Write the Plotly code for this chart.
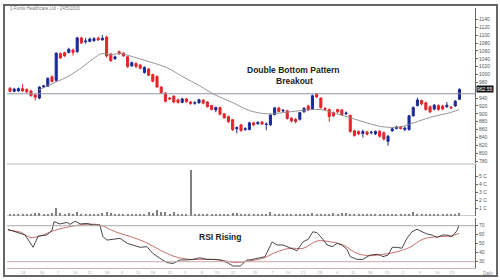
import plotly.graph_objects as go

title_text = "1-Fortis Healthcare Ltd - 24/5/2016"

# daily OHLC
open_ = [965, 957, 958, 964, 962, 958, 948, 940, 968, 970,
         994, 985, 1053, 1055, 1056, 1062, 1058, 1093, 1083, 1084,
         1086, 1092, 1088, 1095, 1052, 1040, 1058, 1054, 1045, 1022,
         1028, 1024, 1005, 1014, 1000, 995, 968, 953, 940, 945,
         936, 929, 938, 930, 927, 928, 935, 930, 921, 910,
         916, 900, 893, 885, 862, 872, 860, 860, 877, 875,
         879, 873, 872, 898, 915, 907, 908, 889, 886, 886,
         905, 920, 913, 950, 940, 914, 911, 903, 911, 910,
         900, 896, 857, 855, 850, 854, 852, 849, 856, 852,
         830, 857, 863, 866, 860, 860, 895, 921, 934, 928,
         918, 912, 921, 920, 918, 917, 920, 937]
high = [968, 966, 967, 976, 965, 961, 950, 970, 974, 993,
        998, 1057, 1056, 1058, 1068, 1066, 1096, 1096, 1093, 1094,
        1095, 1096, 1100, 1099, 1055, 1048, 1061, 1057, 1048, 1033,
        1031, 1027, 1021, 1016, 1002, 998, 970, 955, 943, 947,
        938, 941, 940, 933, 932, 938, 937, 932, 923, 918,
        918, 902, 895, 887, 868, 874, 866, 880, 880, 881,
        882, 878, 899, 918, 918, 912, 910, 891, 889, 905,
        917, 923, 949, 953, 942, 917, 913, 906, 913, 912,
        906, 898, 859, 858, 860, 857, 857, 858, 858, 855,
        846, 866, 870, 869, 868, 897, 919, 941, 936, 931,
        921, 925, 924, 923, 930, 920, 935, 965]
low = [955, 955, 956, 956, 953, 944, 934, 937, 966, 968,
       980, 982, 1040, 1045, 1054, 1048, 1055, 1078, 1078, 1082,
       1083, 1085, 1086, 1043, 1032, 1037, 1050, 1045, 1017, 1019,
       1017, 1013, 1002, 996, 980, 967, 950, 929, 935, 927,
       926, 927, 928, 923, 923, 926, 924, 916, 909, 904,
       896, 887, 877, 856, 850, 855, 857, 858, 869, 872,
       872, 858, 869, 896, 904, 904, 885, 878, 876, 883,
       903, 907, 910, 940, 913, 908, 880, 892, 902, 895,
       897, 852, 842, 846, 840, 845, 848, 846, 840, 832,
       819, 854, 860, 860, 856, 857, 893, 919, 922, 908,
       902, 909, 908, 909, 915, 912, 918, 935]
close = [957, 963, 964, 958, 956, 946, 942, 968, 971, 990,
         982, 1054, 1042, 1047, 1064, 1056, 1093, 1080, 1085, 1090,
         1091, 1088, 1092, 1047, 1035, 1045, 1053, 1047, 1020, 1030,
         1020, 1016, 1018, 998, 983, 968, 954, 932, 938, 930,
         929, 938, 931, 926, 928, 936, 927, 918, 911, 916,
         899, 890, 880, 860, 865, 857, 862, 877, 872, 878,
         874, 874, 897, 915, 906, 909, 888, 882, 880, 903,
         914, 910, 946, 943, 916, 911, 893, 895, 905, 898,
         902, 855, 845, 849, 855, 848, 853, 855, 843, 836,
         843, 862, 866, 863, 864, 895, 916, 935, 925, 911,
         905, 922, 911, 912, 922, 915, 932, 962]
volume = [0.25, 0.20, 0.30, 0.20, 0.25, 0.30, 0.35, 0.40, 0.25, 0.30,
          0.35, 1.00, 0.40, 0.30, 0.35, 0.30, 0.50, 0.30, 0.25, 0.20,
          0.20, 0.25, 0.40, 0.45, 0.35, 0.25, 0.20, 0.25, 0.30, 0.20,
          0.20, 0.25, 0.30, 0.50, 0.35, 0.75, 0.45, 0.45, 0.30, 0.55,
          0.30, 0.25, 0.30, 5.75, 0.30, 0.25, 0.20, 0.30, 0.25, 0.20,
          0.30, 0.25, 0.30, 0.35, 0.40, 0.20, 0.25, 0.30, 0.20, 0.25,
          0.30, 0.20, 0.45, 0.30, 0.25, 0.20, 0.25, 0.30, 0.20, 0.25,
          0.20, 0.30, 0.35, 0.25, 0.20, 0.25, 0.30, 0.40, 0.30, 0.35,
          0.40, 0.30, 0.25, 0.20, 0.25, 0.30, 0.20, 0.25, 0.30, 0.20,
          0.25, 0.30, 0.20, 0.25, 0.20, 0.30, 0.45, 0.30, 0.25, 0.30,
          0.20, 0.25, 0.20, 0.25, 0.30, 0.20, 0.25, 0.35]
days = list(range(len(close)))

# moving average (read at sample days)
ma_day = [6.9, 9.5, 13.6, 17.4, 19.8, 21.9, 23.8, 26.2, 29.3, 33.3, 37.4, 41.2,
          45.2, 48.3, 53.1, 57.1, 61.2, 65.0, 69.0, 73.8, 76.9, 81.0, 85.0,
          88.8, 92.9, 96.9, 100.7, 104.8, 106.9]
ma_val = [961, 974, 994, 1020, 1040, 1053, 1050, 1053, 1045, 1032, 1017, 994,
          971, 951, 928, 908, 900, 903, 908, 911, 903, 890, 877,
          867, 867, 880, 893, 903, 911]

neckline = 951
last_price_label = "962.55"

# RSI and its average (read at sample days)
rsi_day = [-0.5, 1.2, 3.6, 5.5, 6.7, 8.8, 10.0, 10.5, 11.9, 13.6, 14.3, 15.5,
           16.7, 18.3, 19.8, 21.4, 22.1, 23.1, 24.5, 26.2, 27.9, 29.3, 31.0,
           32.6, 34.0, 35.7, 37.4, 38.8, 40.5, 42.1, 43.6, 45.2, 46.9, 48.3,
           50.0, 51.7, 53.1, 54.8, 56.4, 57.1, 58.8, 60.7, 62.4, 63.6, 65.0,
           66.7, 68.3, 69.8, 71.0, 72.1, 73.1, 74.3, 75.5, 76.7, 77.9, 79.0,
           80.2, 81.0, 82.6, 84.0, 85.7, 87.4, 88.1, 88.8, 90.0, 91.0, 92.1,
           93.3, 94.5, 95.7, 96.9, 98.1, 99.3, 100.5, 101.7, 102.9, 104.0,
           105.2, 106.4, 106.9]
rsi_val = [66, 63.3, 59.7, 46, 58.5, 59.7, 65, 74.5, 72, 73.7, 71.5, 75,
           72, 72.6, 70.8, 70.8, 58, 54, 55, 56, 50.4, 48.6, 46,
           46.7, 39.3, 33.8, 29, 28, 32, 32, 32.6, 34.4, 32.6, 32.6,
           32, 29, 25.2, 25.2, 32, 32, 33.8, 35.6, 52, 48.6, 48.6,
           44.9, 42.2, 52.2, 54.9, 63.3, 62.2, 56, 48.6, 46.7, 50.4, 48.6,
           43.8, 35.6, 32.6, 32.6, 37.4, 38.2, 37.4, 35.6, 37.4, 46, 46,
           45, 56, 63.3, 66, 63.3, 60.8, 59.6, 57, 59.6, 59.6,
           57.8, 64.4, 70.8]
sig_day = [-0.5, 2.4, 4.8, 7.1, 10.7, 14.3, 17.9, 21.4, 25.0, 28.6, 32.1, 35.7,
           39.3, 42.9, 46.4, 50.0, 53.6, 57.1, 60.2, 63.6, 66.7, 69.8, 73.1,
           76.2, 79.3, 82.6, 85.7, 88.8, 92.1, 95.2, 98.3, 101.7, 104.8, 106.9]
sig_val = [65, 63, 57, 58.5, 65, 69, 71.5, 70.8, 63.4, 58, 52, 43,
           35.6, 32.6, 32.6, 32, 29, 31, 33.8, 41, 44.9, 44.9, 53,
           52.2, 48.6, 39.3, 36.7, 38.2, 41, 46, 55, 57.8, 58.5, 61.5]

# 960 is hidden under the last-price box in the reference
price_ticks = [v for v in range(780, 1141, 20) if v != 960]
vol_ticks = [1, 2, 3, 4, 5]
vol_tick_text = ["1 C", "2 C", "3 C", "4 C", "5 C"]
rsi_ticks = [30, 40, 50, 60, 70]
x_tick_pos = [3.1, 7.6, 11.4, 15.5, 19.0, 23.1, 26.7, 30.5, 34.0, 38.1, 41.7,
              45.7, 49.3, 53.1, 58.3, 62.4, 66.2, 69.8, 73.8, 77.9, 81.7, 85.7,
              89.8, 93.6, 97.6, 101.7, 105.2]
x_tick_text = ["24", "30", "7", "14", "21", "28", "4", "11", "18", "25", "1",
               "8", "15", "22", "29", "7", "14", "21", "28", "4", "11", "18",
               "25", "2", "9", "16", "23"]

W, H = 500, 280
def px(x):
    return x / W
def py(y):
    return 1 - y / H

fig = go.Figure()
fig.add_trace(go.Candlestick(
    x=days, open=open_, high=high, low=low, close=close,
    increasing=dict(line=dict(color="#1c2a96", width=1), fillcolor="#1c2a96"),
    decreasing=dict(line=dict(color="#e5252a", width=1), fillcolor="#e5252a"),
    whiskerwidth=0, xaxis="x", yaxis="y", showlegend=False, hoverinfo="skip"))
fig.add_trace(go.Scatter(x=ma_day, y=ma_val, mode="lines",
                         line=dict(color="#8a8a8a", width=0.9, shape="spline"),
                         xaxis="x", yaxis="y", showlegend=False))
fig.add_trace(go.Bar(x=days, y=volume, width=0.25, marker=dict(color="#808080", line=dict(width=0)),
                     xaxis="x", yaxis="y2", showlegend=False))
fig.add_trace(go.Scatter(x=sig_day, y=sig_val, mode="lines",
                         line=dict(color="#c0605a", width=0.9, shape="spline"),
                         xaxis="x", yaxis="y3", showlegend=False))
fig.add_trace(go.Scatter(x=rsi_day, y=rsi_val, mode="lines",
                         line=dict(color="#333", width=0.9),
                         xaxis="x", yaxis="y3", showlegend=False))

axis_font = dict(family="Liberation Sans", size=5, color="#555")
common_y = dict(side="right", anchor="x", showgrid=False, zeroline=False,
                ticks="outside", ticklen=2, tickcolor="#666", showline=True,
                linecolor="#666", linewidth=1, tickfont=axis_font)

fig.update_layout(
    width=W, height=H, margin=dict(l=0, r=0, t=0, b=0),
    paper_bgcolor="white", plot_bgcolor="white", showlegend=False,
    bargap=0,
    xaxis=dict(domain=[px(7), px(475)], range=[-0.71, 110.7], anchor="y3",
               showgrid=False, zeroline=False, rangeslider=dict(visible=False),
               tickvals=x_tick_pos, ticktext=x_tick_text, ticks="",
               tickfont=dict(family="Liberation Sans", size=4, color="#aaa"),
               showline=True, linecolor="#c9b3b3", linewidth=1),
    yaxis=dict(domain=[py(163), py(8)], range=[775, 1169], tickvals=price_ticks, **common_y),
    yaxis2=dict(domain=[py(216), py(164)], range=[0, 6.5], tickvals=vol_ticks,
                ticktext=vol_tick_text, **common_y),
    yaxis3=dict(domain=[py(268), py(218)], range=[23, 78.6], tickvals=rsi_ticks, **common_y),
)

shapes = [
    dict(type="rect", xref="paper", yref="paper", x0=px(4), x1=px(497), y0=py(276), y1=py(5),
         line=dict(color="#666", width=2)),
    dict(type="line", xref="paper", yref="paper", x0=px(7), x1=px(477), y0=py(164), y1=py(164),
         line=dict(color="#bbb", width=1)),
    dict(type="line", xref="paper", yref="y2", x0=px(7), x1=px(475), y0=0, y1=0,
         line=dict(color="#999", width=1)),
    dict(type="line", xref="paper", yref="y3", x0=px(7), x1=px(475), y0=70, y1=70,
         line=dict(color="#aaa", width=1)),
    dict(type="line", xref="paper", yref="y3", x0=px(7), x1=px(475), y0=30, y1=30,
         line=dict(color="#c9a9a9", width=1)),
    dict(type="line", xref="paper", yref="y", x0=px(7), x1=px(475), y0=neckline, y1=neckline,
         line=dict(color="#8c92ad", width=1)),
]
fig.update_layout(shapes=shapes)

ann_font = dict(family="Liberation Sans", size=8.5, color="#222")
annotations = [
    dict(xref="paper", yref="paper", x=px(8), y=py(8), text=title_text, showarrow=False,
         xanchor="left", yanchor="middle", font=dict(family="Liberation Sans", size=4.5, color="#777")),
    dict(xref="paper", yref="paper", x=px(293), y=py(70), text="<b>Double Bottom Pattern</b>",
         showarrow=False, xanchor="center", yanchor="middle", font=ann_font),
    dict(xref="paper", yref="paper", x=px(294), y=py(81), text="<b>Breakout</b>",
         showarrow=False, xanchor="center", yanchor="middle", font=ann_font),
    dict(xref="paper", yref="paper", x=px(220), y=py(237), text="<b>RSI Rising</b>",
         showarrow=False, xanchor="center", yanchor="middle", font=ann_font),
    dict(xref="paper", yref="y", x=px(476), y=close[-1], text=last_price_label, showarrow=False,
         xanchor="left", yanchor="middle", bgcolor="#111", borderpad=0,
         font=dict(family="Liberation Sans", size=5, color="white")),
    dict(xref="paper", yref="paper", x=px(488), y=py(273), text="Daily", showarrow=False,
         xanchor="center", yanchor="middle", font=dict(family="Liberation Sans", size=4.5, color="#888")),
]
fig.update_layout(annotations=annotations)

fig.write_html("out.html")
